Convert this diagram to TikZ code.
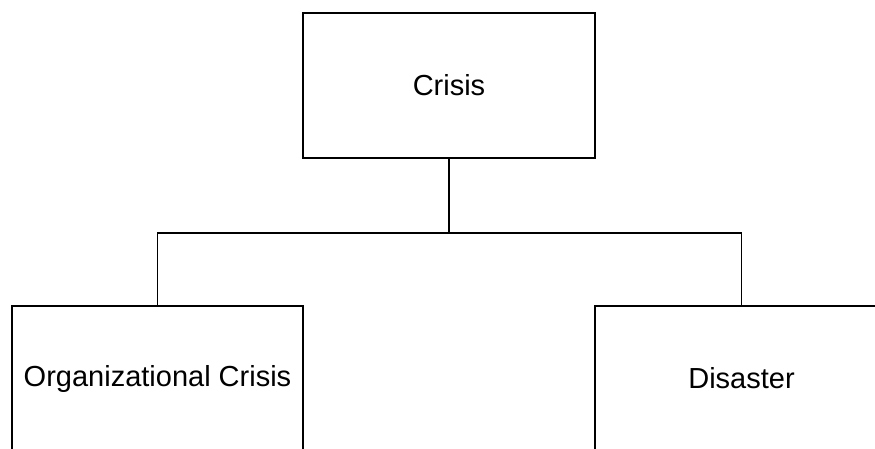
\documentclass[tikz,border=0pt]{standalone}
\usepackage{fontspec}
\setmainfont{Liberation Sans}
\begin{document}
\begin{tikzpicture}[x=1pt,y=1pt,
  box/.style={draw=black, line width=1.6pt, fill=white, inner sep=0pt,
    minimum width=292pt, minimum height=145pt,
    font=\fontsize{29}{34}\selectfont},
  link/.style={draw=black, line width=1.6pt}]
  \useasboundingbox (0,0) rectangle (875,-448);
  \clip (0,0) rectangle (875,-448);
  % hierarchy boxes
  \node[box] (crisis) at (449,-85.5) {Crisis};
  \node[box, minimum width=291pt] (org) at (157.5,-378.5) {Organizational Crisis};
  \node[box, minimum width=293pt] (dis) at (741.5,-378.5) {Disaster};
  % tree connectors
  \coordinate (fork) at (449,-233);
  \draw[link] (crisis.south) -- (fork);
  \draw[link] (fork) -| (org.north);
  \draw[link] (fork) -| (dis.north);
\end{tikzpicture}
\end{document}
